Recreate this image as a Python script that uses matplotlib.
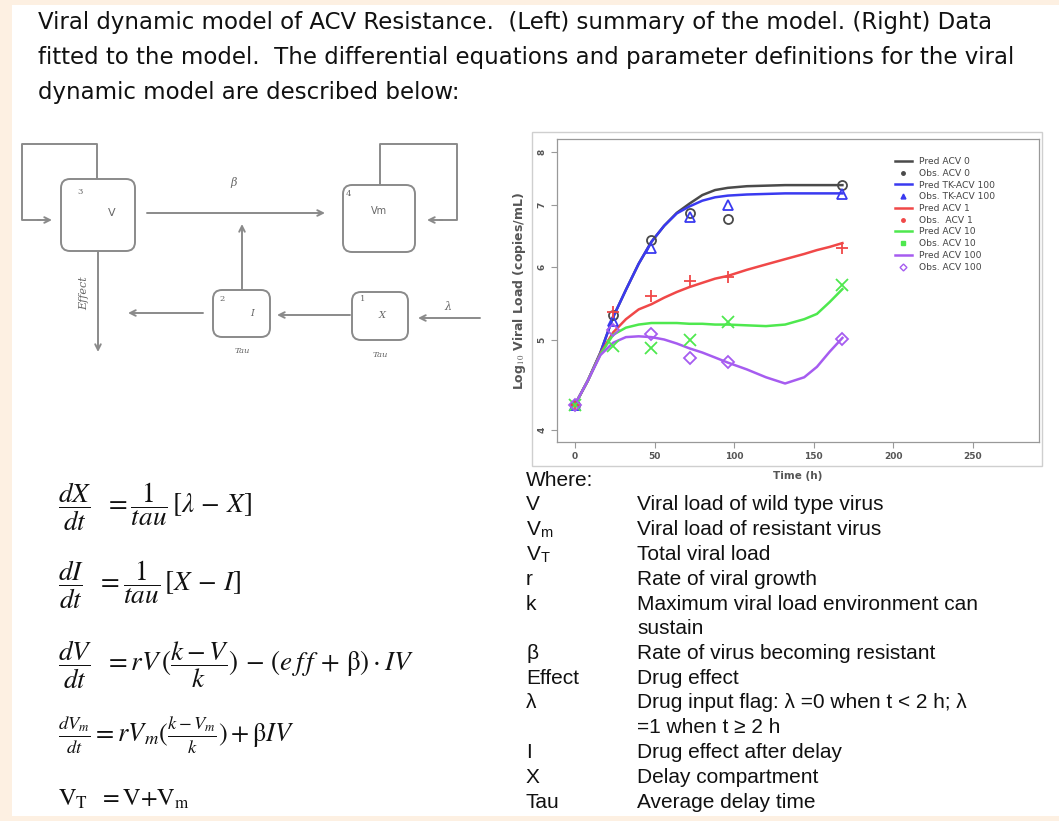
import matplotlib
matplotlib.use("Agg")
import matplotlib.pyplot as plt
from matplotlib.patches import FancyBboxPatch, Rectangle
from matplotlib.lines import Line2D
import matplotlib.ticker as mticker

# ---------------- data ----------------
t_obs = [0, 24, 48, 72, 96, 168]
obs_acv0 = [4.26, 5.32, 6.42, 6.86, 6.76, 7.36]
obs_tk100 = [4.26, 5.24, 6.29, 6.80, 7.00, 7.20]
obs_acv1 = [4.26, 5.37, 5.59, 5.80, 5.85, 6.29]
obs_acv10 = [4.26, 4.93, 4.90, 5.01, 5.23, 5.74]
obs_acv100 = [4.26, 5.13, 5.08, 4.79, 4.74, 5.02]

t_pred = [0, 8, 16, 24, 32, 40, 48, 56, 64, 72, 80, 88, 96, 108, 120, 132, 144, 152, 160, 168]
pred_acv0 = [4.26, 4.52, 4.85, 5.30, 5.67, 6.05, 6.39, 6.65, 6.87, 7.03, 7.18, 7.27, 7.31, 7.34, 7.35, 7.36, 7.36, 7.36, 7.36, 7.36]
pred_tk100 = [4.26, 4.52, 4.85, 5.30, 5.67, 6.05, 6.39, 6.65, 6.86, 6.98, 7.08, 7.14, 7.17, 7.19, 7.20, 7.21, 7.21, 7.21, 7.21, 7.21]
pred_acv1 = [4.26, 4.52, 4.84, 5.10, 5.27, 5.40, 5.47, 5.56, 5.64, 5.71, 5.77, 5.83, 5.87, 5.96, 6.04, 6.12, 6.20, 6.26, 6.31, 6.37]
pred_acv10 = [4.26, 4.52, 4.83, 5.07, 5.16, 5.20, 5.22, 5.22, 5.22, 5.21, 5.21, 5.20, 5.20, 5.19, 5.18, 5.20, 5.27, 5.34, 5.50, 5.68]
pred_acv100 = [4.26, 4.52, 4.82, 4.97, 5.04, 5.05, 5.04, 5.01, 4.96, 4.90, 4.85, 4.79, 4.73, 4.65, 4.56, 4.49, 4.56, 4.68, 4.86, 5.03]

x_ticks = [0, 50, 100, 150, 200, 250]
y_ticks = [4, 5, 6, 7, 8]

legend_labels = ["Pred ACV 0", "Obs. ACV 0", "Pred TK-ACV 100", "Obs. TK-ACV 100",
                 "Pred ACV 1", "Obs.  ACV 1", "Pred ACV 10", "Obs. ACV 10",
                 "Pred ACV 100", "Obs. ACV 100"]

title_lines = ["Viral dynamic model of ACV Resistance.  (Left) summary of the model. (Right) Data",
               "fitted to the model.  The differential equations and parameter definitions for the viral",
               "dynamic model are described below:"]

param_symbols = ["V", "V$_{\\mathregular{m}}$", "V$_{\\mathregular{T}}$", "r", "k", "", "\u03b2", "Effect",
                 "\u03bb", "", "I", "X", "Tau"]
param_defs = ["Viral load of wild type virus", "Viral load of resistant virus", "Total viral load",
              "Rate of viral growth", "Maximum viral load environment can", "sustain",
              "Rate of virus becoming resistant", "Drug effect",
              "Drug input flag: \u03bb =0 when t < 2 h; \u03bb", "=1 when t \u2265 2 h",
              "Drug effect after delay", "Delay compartment", "Average delay time"]

equations = [r"$\dfrac{dX}{dt}\ \ =\dfrac{1}{tau}\,[\lambda\, -\, X]$",
             r"$\dfrac{dI}{dt}\ \ =\dfrac{1}{tau}\,[X\, -\, I]$",
             r"$\dfrac{dV}{dt}\ \ = rV\,(\dfrac{k-V}{k})\, -\, (e\,f\,f\,+\,\mathrm{\beta})\cdot IV$",
             r"$\frac{dV_m}{dt} = rV_m(\frac{k-V_m}{k}) + \mathrm{\beta} IV$",
             r"$\mathrm{V_T}\ \ = \mathrm{V{+}V_m}$"]

# ---------------- figure ----------------
plt.rcParams['mathtext.fontset'] = 'stix'
W, H = 1059, 821
fig = plt.figure(figsize=(W / 100, H / 100), dpi=100, facecolor="#fdf0e2")
ax0 = fig.add_axes([0, 0, 1, 1])
ax0.set_xlim(0, W)
ax0.set_ylim(H, 0)
ax0.axis("off")
ax0.add_patch(Rectangle((12, 5), W - 12, H - 10, facecolor="white", edgecolor="none", zorder=0))

# title
for i, line in enumerate(title_lines):
    ax0.text(38, 22 + i * 35.5, line, fontsize=16.5, family=["Liberation Sans Narrow", "DejaVu Sans"],
             color="#111111", va="center", ha="left")

# ---------------- diagram ----------------
g = "#8a8a8a"


def box(x0, y0, x1, y1):
    ax0.add_patch(FancyBboxPatch((x0, y0), x1 - x0, y1 - y0,
                                 boxstyle="round,pad=0,rounding_size=9",
                                 facecolor="white", edgecolor=g, lw=1.4, zorder=2))


def arrow(x0, y0, x1, y1):
    ax0.annotate("", xy=(x1, y1), xytext=(x0, y0),
                 arrowprops=dict(arrowstyle="->", color=g, lw=1.4, shrinkA=0, shrinkB=0,
                                 mutation_scale=10), zorder=1)


box(61, 179, 135, 251)
box(343, 185, 415, 252)
box(213, 290, 270, 337)
box(352, 292, 408, 340)

# loops
ax0.plot([97, 97, 22, 22, 40], [179, 144, 144, 220, 220], color=g, lw=1.4, zorder=1)
arrow(38, 220, 52, 220)
ax0.plot([380, 380, 457, 457, 440], [185, 144, 144, 220, 220], color=g, lw=1.4, zorder=1)
arrow(442, 220, 427, 220)
# main arrows
arrow(147, 213, 325, 213)
arrow(242, 290, 242, 224)
arrow(480, 318, 418, 318)
arrow(350, 315, 277, 315)
arrow(203, 313, 128, 313)
arrow(98, 251, 98, 352)

sty = dict(color="#666666", zorder=3)
ax0.text(80, 192, "3", fontsize=6, family="DejaVu Serif", ha="center", va="center", **sty)
ax0.text(112, 213, "V", fontsize=8, ha="center", va="center", **sty)
ax0.text(348, 194, "4", fontsize=6, family="DejaVu Serif", ha="center", va="center", **sty)
ax0.text(379, 211, "Vm", fontsize=7, ha="center", va="center", **sty)
ax0.text(222, 299, "2", fontsize=6, family="DejaVu Serif", ha="center", va="center", **sty)
ax0.text(252, 314, "I", fontsize=7, family="DejaVu Serif", style="italic", ha="center", va="center", **sty)
ax0.text(363, 299, "1", fontsize=6, family="DejaVu Serif", ha="center", va="center", **sty)
ax0.text(382, 316, "X", fontsize=7, family="DejaVu Serif", style="italic", ha="center", va="center", **sty)
ax0.text(234, 183, "\u03b2", fontsize=8, family="DejaVu Serif", style="italic", ha="center", va="center", **sty)
ax0.text(448, 307, "\u03bb", fontsize=8, family="DejaVu Serif", style="italic", ha="center", va="center", **sty)
ax0.text(242, 351, "Tau", fontsize=6, family="DejaVu Serif", style="italic", ha="center", va="center", **sty)
ax0.text(380, 355, "Tau", fontsize=6, family="DejaVu Serif", style="italic", ha="center", va="center", **sty)
ax0.text(84, 293, "Effect", fontsize=8, family="DejaVu Serif", style="italic", rotation=90,
         ha="center", va="center", **sty)

# ---------------- equations ----------------
eq_y = [507, 585, 665, 735, 799]
eq_size = [19.5, 19.5, 19.5, 19, 17.5]
for eq, y, s in zip(equations, eq_y, eq_size):
    ax0.text(58, y, eq, fontsize=s, color="#111111", ha="left", va="center")

# ---------------- parameter table ----------------
ax0.text(526, 480, "Where:", fontsize=15, family="Liberation Sans", color="#111111", va="center")
for i, (sym, d) in enumerate(zip(param_symbols, param_defs)):
    y = 505 + i * 24.75
    if sym:
        ax0.text(526, y, sym, fontsize=15, family="Liberation Sans", color="#111111", va="center")
    ax0.text(637, y, d, fontsize=15, family="Liberation Sans", color="#111111", va="center")

# ---------------- chart ----------------
ax0.add_patch(Rectangle((532, 132), 1042 - 532, 466 - 132, facecolor="white", edgecolor="#cfcfcf",
                        lw=1.0, zorder=1))
ax = fig.add_axes([557 / W, 1 - 442 / H, (1039 - 557) / W, (442 - 139) / H])
ax.set_yscale("log")
ax.set_xlim(-11.3, 291.5)
ax.set_ylim(3.881, 8.256)

c_black, c_blue, c_red, c_green, c_purple = "#4a4a4a", "#3a3af0", "#f04848", "#4ee84e", "#a65cf0"
series = [(pred_acv0, obs_acv0, c_black, "o"),
          (pred_tk100, obs_tk100, c_blue, "^"),
          (pred_acv1, obs_acv1, c_red, "+"),
          (pred_acv10, obs_acv10, c_green, "x"),
          (pred_acv100, obs_acv100, c_purple, "D")]
for pred, obs, c, m in series:
    ax.plot(t_pred, pred, color=c, lw=1.8, zorder=2)
for pred, obs, c, m in series:
    ms = 6.5 if m in ("o", "^") else (6 if m == "D" else 8)
    ax.plot(t_obs, obs, linestyle="none", marker=m, ms=ms, mfc="none", mec=c, mew=1.3, zorder=3)

ax.set_xticks(x_ticks)
ax.set_yticks(y_ticks)
ax.yaxis.set_minor_locator(mticker.NullLocator())
ax.yaxis.set_major_formatter(mticker.FormatStrFormatter("%d"))
ax.tick_params(axis="both", colors="#999999", labelcolor="#555555", labelsize=6.5, length=4, width=0.8)
for lab in ax.get_yticklabels():
    lab.set_rotation(90)
    lab.set_va("center")
    lab.set_fontweight("bold")
for lab in ax.get_xticklabels():
    lab.set_fontweight("bold")
for sp in ax.spines.values():
    sp.set_color("#999999")
    sp.set_linewidth(0.9)
ax.set_xlabel("Time (h)", fontsize=7.5, fontweight="bold", color="#555555", labelpad=7)
ax.set_ylabel("Log$_{10}$ Viral Load (copies/mL)", fontsize=9, fontweight="bold", color="#555555", labelpad=7)

handles = [
    Line2D([], [], color=c_black, lw=1.8), Line2D([], [], color=c_black, ls="none", marker="o", ms=2.5),
    Line2D([], [], color=c_blue, lw=1.8), Line2D([], [], color=c_blue, ls="none", marker="^", ms=3.5),
    Line2D([], [], color=c_red, lw=1.8), Line2D([], [], color=c_red, ls="none", marker="o", ms=2.5),
    Line2D([], [], color=c_green, lw=1.8), Line2D([], [], color=c_green, ls="none", marker="s", ms=2.2),
    Line2D([], [], color=c_purple, lw=1.8), Line2D([], [], color=c_purple, ls="none", marker="D", ms=3.5,
                                                   mfc="none", mew=1.0),
]
leg = ax.legend(handles, legend_labels, loc="upper left", bbox_to_anchor=((895 - 557) / (1039 - 557), 1 - (157 - 139) / (442 - 139)),
                frameon=False, fontsize=6.6, labelspacing=0.3, handlelength=1.8, handletextpad=0.8,
                borderpad=0, borderaxespad=0)
for txt in leg.get_texts():
    txt.set_color("#444444")

fig.savefig("out.png", dpi=100, facecolor=fig.get_facecolor())
